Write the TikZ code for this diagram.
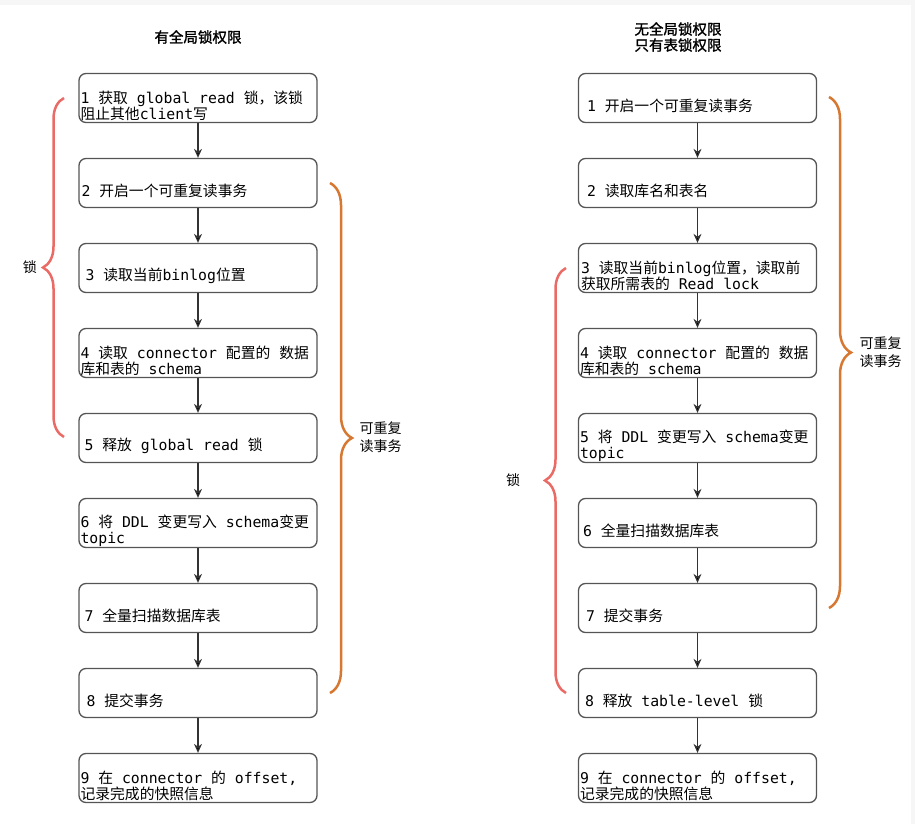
\documentclass[tikz,border=0pt]{standalone}
\usepackage{fontspec}
\setmainfont{DejaVu Sans Mono}
\newfontfamily\cjk{Noto Sans CJK SC}
\newfontfamily\cjkbold[FakeBold=1.5]{Noto Sans CJK SC}
\usetikzlibrary{arrows.meta,decorations.pathreplacing}
\definecolor{lockred}{HTML}{EA6B66}
\definecolor{txorange}{HTML}{D67832}
\definecolor{boxgray}{HTML}{555555}
\newcommand{\zh}[1]{{\cjk #1}}
\newcommand{\flowbox}[5][7]{%
  \node[box] (#2) at (#3,#4) {};
  \node[boxtext] (#2t) at ([shift={(#1,-8)}]#2.west) {#5};}

\begin{document}
\begin{tikzpicture}[
  x=1pt, y=1pt,
  >={Stealth[length=9pt,width=8pt]},
  box/.style={draw=boxgray, line width=1.3pt, rounded corners=7pt,
    minimum width=238pt, minimum height=49pt, inner sep=0pt},
  boxtext/.style={anchor=west, align=left, inner sep=0pt,
    font=\fontsize{14.8}{16.5}\selectfont},
  flow/.style={->, draw=black!80, line width=1.1pt},
  lockbrace/.style={draw=lockred, line width=2.5pt, decorate,
    decoration={brace, amplitude=21pt}},
  txbrace/.style={draw=txorange, line width=2.5pt, decorate,
    decoration={brace, amplitude=22pt}},
  title/.style={font=\cjkbold\fontsize{14.5}{16}\selectfont, align=center},
  side/.style={font=\cjk\fontsize{14}{18}\selectfont, align=left}
]
  \useasboundingbox (0,0) rectangle (915,-824);
  \fill[gray!7] (0,0) rectangle (915,-5);
  \fill[gray!7] (911,0) rectangle (915,-824);

  % with global lock
  \node[title] (ltitle) at (198,-37) {有全局锁权限};
  \flowbox[2]{l1}{198}{-98}{1 \zh{获取} global read \zh{锁，该锁}\\\zh{阻止其他}client\zh{写}}
  \flowbox[3]{l2}{198}{-183}{2 \zh{开启一个可重复读事务}}
  \flowbox{l3}{198}{-268}{3 \zh{读取当前}binlog\zh{位置}}
  \flowbox[2]{l4}{198}{-353}{4 \zh{读取} connector \zh{配置的} \zh{数据}\\\zh{库和表的} schema}
  \flowbox[6]{l5}{198}{-438}{5 \zh{释放} global read \zh{锁}}
  \flowbox[2]{l6}{198}{-523}{6 \zh{将} DDL \zh{变更写入} schema\zh{变更}\\topic}
  \flowbox[6]{l7}{198}{-608}{7 \zh{全量扫描数据库表}}
  \flowbox[8]{l8}{198}{-693}{8 \zh{提交事务}}
  \flowbox[2]{l9}{198}{-778}{9 \zh{在} connector \zh{的} offset,\\\zh{记录完成的快照信息}}

  \path[flow]
    (l1) edge (l2)
    (l2) edge (l3)
    (l3) edge (l4)
    (l4) edge (l5)
    (l5) edge (l6)
    (l6) edge (l7)
    (l7) edge (l8)
    (l8) edge (l9);

  \draw[lockbrace] (64,-437) -- (64,-98);
  \node[side] (llock) at (30,-267) {锁};
  \draw[txbrace] (330,-183) -- (330,-693);
  \node[side, anchor=west] (ltx) at (356,-437) {可重复\\读事务};

  % table lock only
  \node[title] (rtitle) at (678,-37) {无全局锁权限\\只有表锁权限};
  \flowbox[9]{r1}{697.5}{-98}{1 \zh{开启一个可重复读事务}}
  \flowbox[9]{r2}{697.5}{-183}{2 \zh{读取库名和表名}}
  \flowbox[3]{r3}{697.5}{-268}{3 \zh{读取当前}binlog\zh{位置，读取前}\\\zh{获取所需表的} Read lock}
  \flowbox[2]{r4}{697.5}{-353}{4 \zh{读取} connector \zh{配置的} \zh{数据}\\\zh{库和表的} schema}
  \flowbox[2]{r5}{697.5}{-438}{5 \zh{将} DDL \zh{变更写入} schema\zh{变更}\\topic}
  \flowbox[5]{r6}{697.5}{-523}{6 \zh{全量扫描数据库表}}
  \flowbox[8]{r7}{697.5}{-608}{7 \zh{提交事务}}
  \flowbox[7]{r8}{697.5}{-693}{8 \zh{释放} table-level \zh{锁}}
  \flowbox[2]{r9}{697.5}{-778}{9 \zh{在} connector \zh{的} offset,\\\zh{记录完成的快照信息}}

  \path[flow]
    (r1) edge (r2)
    (r2) edge (r3)
    (r3) edge (r4)
    (r4) edge (r5)
    (r5) edge (r6)
    (r6) edge (r7)
    (r7) edge (r8)
    (r8) edge (r9);

  \draw[lockbrace] (566,-693) -- (566,-268);
  \node[side] (rlock) at (513,-480) {锁};
  \draw[txbrace] (829,-97) -- (829,-608);
  \node[side, anchor=west] (rtx) at (856,-352) {可重复\\读事务};
\end{tikzpicture}
\end{document}
